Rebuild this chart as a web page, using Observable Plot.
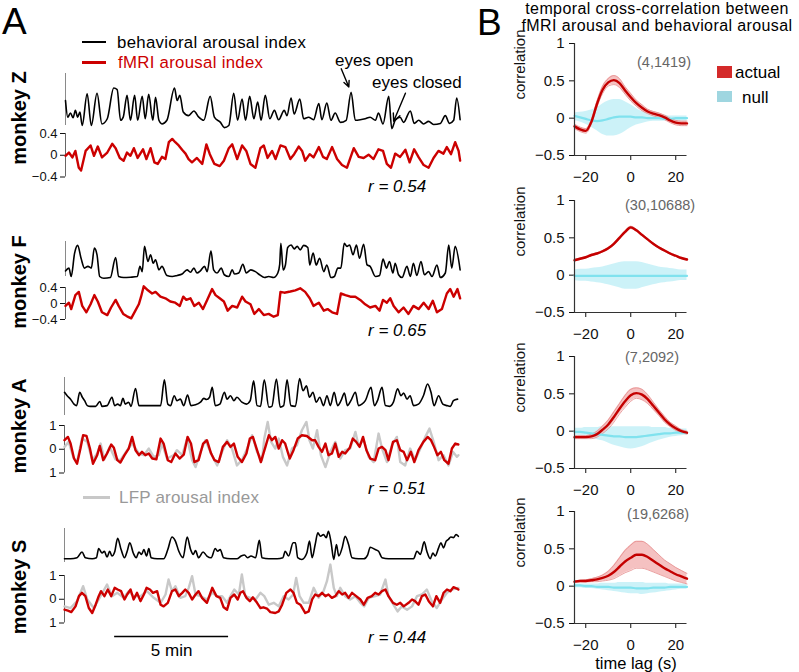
<!DOCTYPE html>
<html><head><meta charset="utf-8">
<script src="https://cdn.jsdelivr.net/npm/d3@7"></script>
<script src="https://cdn.jsdelivr.net/npm/@observablehq/plot@0.6"></script>
<style>
html,body{margin:0;padding:0;background:#fff;}
#root{position:relative;width:799px;height:672px;overflow:hidden;background:#fff;font-family:"Liberation Sans",Arial,Helvetica,sans-serif;color:#000;}
.t{position:absolute;white-space:nowrap;line-height:1;}
</style></head><body><div id="root"></div>
<script>
// ---------- Panel A data: [time (s), value] ----------
const timeDomain = [0, 1040];
const scaleBarSec = [132, 432];
const rValues = ["r = 0.54", "r = 0.65", "r = 0.51", "r = 0.44"];
const monkeyNames = ["monkey Z", "monkey F", "monkey A", "monkey S"];
const zfTicks = [-0.4, 0, 0.4];
const zfTickLabels = ["\u22120.4", "0", "0.4"];
const asTicks = [-1, 0, 1];
const asTickLabels = ["1", "0", "1"];

const zBeh = [[0,0.48],[6,0.16],[13,0.24],[20,0.15],[26,0.29],[32,0.16],[38,0.26],[44,0],[57,0.61],[68,0],[83,0.62],[96,0.03],[110,0.13],[127,0.72],[136,0.69],[145,0.10],[152,0.16],[162,0.58],[171,0.10],[182,0.58],[190,0.10],[202,0.56],[210,0.13],[219,0.60],[230,0.10],[237,0.54],[246,0.10],[254,0.03],[267,0.10],[287,0.72],[294,0.48],[301,0.58],[310,0.26],[324,0.19],[338,0.28],[351,0.16],[364,0.10],[381,0.56],[392,0.16],[408,0.06],[418,-0.04],[430,0],[443,0.62],[453,0.10],[465,0.51],[474,0.10],[485,0.56],[496,0.13],[506,0.45],[515,0.10],[526,0.58],[538,0.13],[550,0.29],[561,0.11],[576,0.29],[583,0.19],[594,0.53],[602,0.22],[617,0.51],[627,0.13],[640,0.16],[653,0.11],[667,0.42],[675,0.11],[688,0.43],[699,0.10],[710,0.24],[724,0.06],[739,0.10],[752,0.64],[763,0.10],[776,0.11],[789,0.13],[802,0.16],[816,0.10],[824,0.24],[836,0.03],[851,0.56],[859,-0.06],[868,0.10],[881,0.16],[890,0.06],[908,0.28],[918,0.04],[930,0.10],[943,0.03],[956,0.08],[969,0.02],[987,0.04],[1000,0.19],[1011,0.04],[1022,0.10],[1030,0.53],[1039,0.11]];
const zFmri = [[0,-0.01],[9,0.05],[18,-0.04],[26,0.08],[35,-0.23],[41,-0.28],[53,0.08],[66,0.18],[75,-0.01],[85,0.16],[96,-0.04],[110,0.05],[123,0.21],[132,0.13],[143,-0.05],[153,-0.10],[162,0.05],[171,-0.01],[180,0.13],[190,-0.05],[204,0.11],[213,-0.07],[224,0.13],[234,-0.13],[243,-0.16],[254,-0.03],[263,-0.07],[272,0.24],[281,0.30],[289,0.24],[298,0.18],[307,0.10],[316,0.03],[324,-0.07],[333,-0.13],[346,-0.05],[360,-0.16],[371,0.20],[380,0.02],[392,-0.16],[406,-0.20],[417,-0.10],[430,0.13],[439,0.20],[452,-0.07],[465,0.18],[476,0.08],[487,-0.16],[500,-0.23],[513,0.13],[522,0.18],[532,-0.05],[544,0.08],[553,-0.07],[566,0.18],[579,0.15],[592,-0.07],[602,0.02],[614,0.16],[623,0.08],[631,-0.10],[643,0.02],[653,-0.04],[667,0.15],[678,-0.03],[688,-0.07],[702,0.15],[715,-0.07],[728,-0.18],[741,-0.23],[750,-0.05],[759,0.13],[772,-0.03],[785,-0.05],[798,0.01],[811,-0.07],[824,0.11],[836,0.08],[846,-0.16],[857,-0.23],[868,0.03],[881,-0.03],[895,0.10],[906,-0.13],[918,0.11],[930,-0.04],[943,-0.18],[956,-0.23],[969,-0.05],[982,0.08],[995,0.03],[1004,0.15],[1015,0.02],[1026,0.24],[1035,0.08],[1039,-0.10]];

const fBeh = [[0,0.16],[9,0.24],[15,0],[24,0.67],[32,0.89],[41,0.52],[50,0.24],[59,0.29],[68,0.24],[76,0.81],[83,0.62],[90,0],[101,-0.05],[118,-0.03],[132,0.54],[140,0],[153,-0.03],[171,-0.02],[189,0],[196,0.29],[202,0.14],[208,0.86],[217,0.43],[224,0.62],[231,0.38],[237,0.48],[246,0.19],[254,0.29],[267,0.03],[281,0],[294,0.03],[307,0.07],[320,0.19],[329,0.12],[338,0.24],[346,0.10],[355,0.16],[366,0.29],[373,0.14],[383,0.73],[390,0.19],[399,0.10],[410,0.24],[418,0.05],[430,0],[439,0.19],[445,0.07],[456,0.10],[467,0.35],[476,0.10],[488,0.19],[500,0.14],[511,0.05],[524,-0.03],[535,0],[548,-0.03],[559,0.10],[564,0.35],[567,0.95],[573,0.19],[579,0.33],[585,0.83],[594,0.90],[602,0.79],[610,0.86],[618,0.76],[627,0.89],[638,0.83],[643,0.33],[652,0.67],[660,0.33],[669,0.52],[680,0.14],[688,0.33],[699,-0.03],[708,0],[717,0.24],[725,0.24],[734,0.95],[741,0.86],[748,0.90],[757,0.62],[766,0.90],[774,0.52],[785,0.92],[794,0.33],[802,0.29],[816,0],[827,0.03],[836,0.50],[845,0.24],[853,0.43],[862,0.10],[868,0.38],[877,0.05],[886,-0.03],[899,0.29],[908,0],[916,0.38],[925,0.03],[936,0.43],[945,0.05],[956,0.14],[965,0],[978,0.33],[987,-0.03],[1000,0.10],[1009,0.90],[1017,0.24],[1026,0.86],[1039,0.19]];
const fFmri = [[0,-0.06],[9,0.02],[15,-0.14],[26,0.21],[35,0.29],[44,-0.06],[55,-0.22],[66,-0.02],[76,0.21],[85,0.05],[96,-0.22],[110,-0.29],[120,-0.10],[132,0.09],[140,-0.06],[152,-0.26],[162,-0.32],[173,-0.37],[184,-0.18],[193,-0.02],[199,0.17],[206,0.43],[217,0.33],[228,0.25],[237,0.29],[250,0.17],[263,0.13],[276,0.05],[289,0.02],[301,-0.06],[310,0.17],[318,0.09],[329,0.13],[339,-0.06],[351,0.02],[362,-0.14],[373,0.09],[386,0.36],[395,0.21],[406,0.13],[417,0.05],[427,-0.18],[439,-0.06],[452,-0.10],[465,0.17],[474,0.05],[487,-0.02],[497,-0.26],[509,-0.14],[522,-0.29],[535,-0.26],[548,-0.33],[559,-0.29],[566,0.29],[576,0.27],[592,0.30],[605,0.33],[618,0.38],[631,0.29],[643,0.13],[653,-0.06],[667,0.02],[680,-0.18],[690,-0.14],[702,-0.22],[715,-0.26],[725,0.25],[737,0.21],[750,0.17],[763,0.17],[776,0.09],[789,-0.02],[802,-0.10],[816,-0.06],[827,-0.18],[836,0.09],[846,0.02],[855,0.13],[864,-0.06],[877,-0.22],[890,-0.10],[903,-0.26],[916,-0.06],[930,-0.14],[943,0.02],[956,-0.14],[967,0.07],[978,-0.22],[991,-0.14],[1004,0.25],[1013,0.36],[1022,0.17],[1032,0.36],[1039,0.13]];

const aBeh = [[0,0.61],[7,0.52],[16,0.43],[25,0.30],[32,0.26],[40,0.61],[47,0.48],[53,0.39],[60,0.26],[68,0.24],[82,0.24],[93,0.37],[99,0.24],[112,0.26],[125,0.48],[132,0.26],[140,0.30],[147,0.26],[154,0.45],[160,0.30],[169,0.35],[175,0.24],[187,0.71],[196,0.26],[204,0.26],[222,0.26],[239,0.26],[253,0.26],[263,0.94],[272,0.30],[279,0.26],[289,0.52],[296,0.39],[305,0.43],[314,0.26],[324,0.54],[333,0.26],[345,0.28],[358,0.35],[367,0.45],[374,0.42],[382,0.48],[389,0.74],[397,0.26],[409,0.30],[421,0.61],[428,0.43],[437,0.52],[446,0.39],[454,0.48],[467,0.35],[479,0.30],[489,0.39],[498,0.91],[507,0.26],[516,0.24],[526,0.94],[538,0.22],[546,0.24],[558,0.96],[568,0.22],[577,0.26],[586,0.94],[596,0.26],[608,0.24],[619,0.97],[628,0.65],[637,0.78],[645,0.48],[654,0.61],[663,0.35],[672,0.48],[682,0.26],[691,0.52],[700,0.26],[710,0.61],[719,0.26],[728,0.39],[737,0.59],[745,0.26],[754,0.39],[766,0.61],[774,0.26],[783,0.30],[792,0.39],[807,0.74],[816,0.26],[824,0.39],[836,0.74],[845,0.26],[856,0.24],[866,0.35],[877,0.70],[886,0.52],[893,0.59],[902,0.43],[910,0.52],[919,0.26],[932,0.30],[945,0.52],[956,0.83],[965,0.61],[973,0.26],[985,0.52],[996,0.30],[1007,0.26],[1016,0.24],[1024,0.39],[1035,0.43]];
const aFmri = [[0,0.38],[9,0.52],[16,0.24],[25,-0.39],[33,-0.61],[42,0.03],[49,0.59],[58,0.56],[67,0.03],[75,-0.61],[86,-0.25],[93,0.14],[102,-0.46],[112,-0.18],[123,0.20],[130,0.06],[139,-0.46],[147,-0.56],[158,-0.25],[169,0.03],[178,0.52],[187,-0.04],[196,-0.25],[204,-0.11],[213,-0.25],[222,-0.18],[231,-0.39],[242,-0.42],[253,0.45],[261,0.24],[272,-0.46],[281,-0.54],[292,-0.18],[303,-0.39],[314,-0.23],[324,0.52],[333,0.24],[342,-0.54],[353,-0.46],[365,0.24],[375,0.38],[386,-0.18],[395,-0.46],[406,-0.54],[417,0.10],[428,0.31],[437,0.10],[446,0.24],[456,-0.32],[467,-0.54],[479,-0.18],[488,0.45],[496,0.52],[507,-0.04],[517,-0.54],[529,0.10],[538,0.59],[546,0.38],[555,0.52],[564,0.03],[573,0.38],[581,0.24],[593,-0.39],[603,-0.04],[614,0.45],[625,0.59],[638,0.56],[652,0.38],[660,0.38],[669,0.10],[678,-0.11],[687,0.24],[695,-0.25],[704,-0.18],[713,0.24],[722,-0.32],[731,-0.11],[739,-0.18],[751,0.06],[759,0.45],[768,0.31],[777,0.10],[786,0.52],[795,-0.04],[805,-0.39],[818,-0.46],[827,0.03],[836,0.10],[845,-0.04],[853,-0.46],[865,0.31],[875,0.38],[884,-0.04],[893,-0.11],[902,-0.46],[912,-0.11],[921,-0.54],[932,-0.04],[945,0.31],[956,0.52],[965,0.38],[973,0.10],[982,-0.25],[991,-0.11],[1000,-0.46],[1011,-0.61],[1020,0.03],[1029,0.24],[1037,0.20]];
const aLfp = [[0,0.10],[11,0.31],[23,-0.32],[33,-0.54],[46,0.45],[60,0.31],[73,-0.46],[86,-0.18],[95,0.24],[105,-0.42],[119,0.10],[134,-0.42],[147,-0.46],[165,-0.04],[178,0.24],[196,-0.18],[209,-0.25],[222,0.03],[235,-0.32],[248,-0.25],[257,0.24],[270,-0.39],[288,-0.25],[296,-0.04],[310,-0.25],[323,0.45],[336,-0.46],[345,-0.75],[358,-0.11],[371,0.38],[384,-0.11],[402,-0.68],[415,-0.11],[428,0.38],[441,0.03],[454,-0.68],[467,-0.46],[481,0.03],[494,0.59],[507,-0.11],[520,-0.46],[526,0.45],[535,1.15],[544,0.31],[555,0.03],[564,0.45],[575,-0.32],[586,-0.68],[599,0.03],[612,0.17],[625,0.80],[637,1.15],[645,0.38],[654,0.03],[665,0.80],[675,-0.25],[687,-0.75],[700,-0.11],[713,0.31],[726,-0.39],[739,-0.04],[752,0.03],[766,0.73],[774,0.17],[788,0.38],[801,-0.32],[814,-0.54],[827,0.66],[836,0.03],[849,-0.54],[862,0.17],[875,0.52],[884,-0.54],[897,-0.68],[910,0.03],[923,-0.46],[937,0.03],[950,0.52],[961,0.87],[972,0.31],[985,-0.46],[998,-0.25],[1011,-0.68],[1023,-0.11],[1033,-0.32],[1037,-0.25]];

const sBeh = [[0,0.11],[16,0.11],[33,0.14],[46,0.31],[55,0.14],[73,0.11],[84,0.14],[90,0.41],[99,0.28],[105,0.33],[112,0.16],[119,0.33],[125,0.19],[132,0.31],[140,0.71],[149,0.38],[158,0.14],[165,0.33],[172,0.58],[181,0.28],[189,0.14],[196,0.31],[203,0.24],[209,0.38],[216,0.19],[222,0.41],[228,0.14],[244,0.11],[261,0.11],[272,0.38],[283,0.75],[292,0.63],[301,0.33],[312,0.14],[323,0.75],[332,0.38],[339,0.24],[345,0.35],[353,0.14],[365,0.31],[375,0.19],[386,0.14],[397,0.41],[403,0.33],[410,0.38],[419,0.14],[437,0.11],[454,0.11],[465,0.19],[474,0.22],[482,0.14],[491,0.19],[503,0.14],[513,0.65],[520,0.14],[538,0.11],[560,0.11],[575,0.14],[581,0.33],[590,0.19],[602,0.58],[608,0.58],[614,0.14],[625,0.09],[638,0.28],[645,0.63],[652,0.14],[660,0.53],[667,0.87],[674,0.77],[682,0.82],[689,0.73],[695,0.92],[702,0.58],[709,0.09],[716,0.53],[722,0.19],[731,0.43],[739,0.77],[748,0.53],[757,0.14],[774,0.11],[788,0.11],[798,0.22],[805,0.45],[818,0.38],[827,0.33],[836,0.14],[853,0.11],[875,0.11],[897,0.11],[919,0.11],[928,0.33],[937,0.24],[947,0.61],[954,0.33],[963,0.11],[970,0.28],[976,0.19],[985,0.43],[991,0.58],[998,0.43],[1005,0.63],[1011,0.68],[1017,0.75],[1024,0.73],[1031,0.82],[1037,0.77]];
const sFmri = [[0,-0.44],[9,-0.48],[18,-0.54],[29,-0.30],[38,0.13],[46,0.27],[55,0.13],[64,-0.37],[73,-0.58],[82,-0.23],[90,0.13],[96,0.34],[105,0.13],[114,0.41],[123,0.13],[132,0.48],[140,0.41],[149,0.34],[158,-0.01],[165,0.20],[174,0.41],[182,-0.01],[191,0.27],[200,-0.08],[209,0.20],[216,0.48],[225,0.41],[233,0.27],[244,0.34],[253,-0.23],[261,-0.30],[272,-0.15],[283,0.34],[292,0.41],[301,0.13],[310,0.27],[318,0.41],[327,0.27],[336,-0.01],[345,0.20],[353,0.34],[362,0.06],[375,-0.15],[389,0.48],[400,0.13],[410,0.06],[419,-0.34],[428,-0.44],[437,0.06],[447,0.20],[456,-0.01],[463,0.27],[470,0.34],[479,0.06],[488,-0.08],[496,0.08],[507,-0.15],[516,-0.37],[524,-0.34],[533,-0.39],[542,-0.54],[555,-0.58],[564,-0.51],[573,-0.23],[584,0.27],[595,0.41],[603,0.27],[612,-0.15],[621,-0.23],[634,-0.58],[643,-0.51],[652,-0.01],[660,0.20],[669,0.13],[678,0.27],[687,0.13],[695,0.20],[704,0.06],[713,0.13],[722,0.34],[731,0.20],[739,0.27],[748,0.06],[757,0.27],[768,0.13],[779,-0.01],[788,-0.23],[798,0.06],[809,0.13],[818,0.27],[827,0.20],[836,0.34],[845,0.41],[853,0.13],[865,-0.15],[875,-0.23],[884,-0.15],[893,-0.30],[906,-0.15],[915,-0.01],[923,-0.08],[932,-0.23],[941,0.13],[950,0.20],[959,-0.08],[970,-0.30],[979,0.13],[989,-0.15],[998,0.27],[1007,0.41],[1016,0.34],[1024,0.51],[1033,0.45],[1037,0.41]];
const sLfp = [[0,-0.30],[16,-0.37],[33,-0.08],[49,0.55],[60,-0.01],[77,-0.37],[95,0.13],[112,0.62],[125,0.13],[139,0.27],[156,0.06],[169,0.34],[182,0.13],[200,0.13],[217,0.34],[235,0.06],[253,-0.15],[266,0.20],[274,0.83],[283,0.34],[292,0.55],[305,0.06],[318,0.13],[327,0.48],[336,0.97],[345,0.20],[358,0.13],[375,-0.01],[389,0.27],[402,0.13],[415,0.13],[428,-0.15],[437,0.13],[447,0.41],[459,0.20],[467,1.04],[476,0.13],[489,0.06],[503,-0.01],[516,0.27],[526,0.13],[538,-0.23],[551,-0.15],[564,-0.30],[577,0.13],[590,-0.01],[602,0.20],[610,0.90],[619,0.13],[630,-0.15],[643,-0.15],[656,0.48],[669,0.06],[682,0.34],[691,0.76],[700,1.46],[709,0.48],[717,0.13],[726,0.48],[739,0.13],[752,-0.01],[766,0.13],[779,-0.15],[789,-0.30],[801,0.06],[818,0.13],[831,0.20],[845,0.83],[853,0.13],[866,-0.23],[877,-0.51],[888,-0.30],[902,-0.44],[915,-0.30],[928,0.13],[941,0.20],[954,0.41],[967,-0.08],[980,-0.37],[994,-0.01],[1007,0.27],[1020,0.41],[1037,0.48]];

const eyeArrows = [
  {label: "eyes open", x1: 726, y1: 1.09, x2: 746, y2: 0.74},
  {label: "eyes closed", x1: 895, y1: 0.62, x2: 864, y2: 0.08}
];

// ---------- Panel B data ----------
const lags = [-25,-22.5,-20,-17.5,-15,-12.5,-10,-7.5,-5,-2.5,0,2.5,5,7.5,10,12.5,15,17.5,20,22.5,25];
const lagTicks = [-20, 0, 20];
const lagTickLabels = ["\u221220", "0", "20"];
const corrTicks = [-0.5, 0, 0.5, 1];
const corrTickLabels = ["\u22120.5", "0", "0.5", "1"];
const counts = ["(4,1419)", "(30,10688)", "(7,2092)", "(19,6268)"];

const b1Actual = [-0.11,-0.15,-0.17,-0.05,0.19,0.38,0.48,0.51,0.47,0.37,0.28,0.20,0.14,0.09,0.06,0.04,0.01,-0.03,-0.06,-0.07,-0.07];
const b1Err    = [0.03,0.03,0.03,0.03,0.04,0.05,0.05,0.06,0.06,0.05,0.05,0.04,0.04,0.03,0.03,0.03,0.03,0.03,0.03,0.03,0.03];
const b1Null   = [0.03,0.01,-0.01,-0.03,-0.04,-0.03,-0.01,0.01,0.02,0.02,0.02,0.01,0.01,0,0,0,-0.01,-0.01,0,0,0];
const b1NullHi = [0.07,0.08,0.09,0.11,0.14,0.19,0.23,0.25,0.25,0.22,0.18,0.13,0.09,0.07,0.05,0.04,0.04,0.03,0.03,0.03,0.03];
const b1NullLo = [-0.03,-0.05,-0.08,-0.12,-0.17,-0.22,-0.24,-0.24,-0.22,-0.18,-0.13,-0.09,-0.07,-0.05,-0.04,-0.04,-0.04,-0.04,-0.04,-0.04,-0.04];

const b2Actual = [0.20,0.22,0.24,0.27,0.29,0.32,0.36,0.42,0.50,0.58,0.64,0.60,0.54,0.48,0.42,0.37,0.33,0.29,0.26,0.23,0.21];
const b2Err    = [0.01,0.01,0.01,0.01,0.01,0.01,0.012,0.012,0.014,0.015,0.015,0.015,0.014,0.012,0.012,0.01,0.01,0.01,0.01,0.01,0.01];
const b2Null   = [-0.01,-0.01,-0.01,-0.01,-0.01,-0.01,-0.01,-0.01,-0.01,-0.01,-0.01,-0.01,-0.01,-0.01,-0.01,-0.01,-0.01,-0.01,-0.01,-0.01,-0.01];
const b2NullHi = [0.07,0.08,0.08,0.09,0.10,0.11,0.13,0.15,0.17,0.18,0.18,0.18,0.17,0.15,0.13,0.11,0.10,0.09,0.08,0.07,0.07];
const b2NullLo = [-0.07,-0.08,-0.08,-0.09,-0.10,-0.11,-0.13,-0.15,-0.17,-0.19,-0.19,-0.19,-0.17,-0.15,-0.13,-0.11,-0.10,-0.09,-0.08,-0.07,-0.07];

const b3Actual = [-0.08,-0.08,-0.08,-0.07,-0.04,0.02,0.09,0.19,0.30,0.40,0.48,0.51,0.49,0.43,0.34,0.25,0.16,0.09,0.04,0.00,-0.02];
const b3Err    = [0.02,0.02,0.02,0.03,0.04,0.05,0.06,0.07,0.07,0.08,0.08,0.07,0.07,0.06,0.05,0.04,0.04,0.03,0.03,0.02,0.02];
const b3Null   = [-0.01,-0.01,-0.02,-0.03,-0.04,-0.05,-0.06,-0.07,-0.07,-0.08,-0.08,-0.08,-0.07,-0.06,-0.05,-0.04,-0.03,-0.03,-0.02,-0.02,-0.02];
const b3NullHi = [0.04,0.04,0.05,0.05,0.05,0.06,0.06,0.06,0.06,0.06,0.06,0.06,0.06,0.06,0.05,0.05,0.05,0.04,0.04,0.03,0.03];
const b3NullLo = [-0.05,-0.06,-0.07,-0.09,-0.11,-0.13,-0.16,-0.19,-0.21,-0.23,-0.24,-0.23,-0.21,-0.18,-0.15,-0.12,-0.10,-0.08,-0.07,-0.06,-0.05];

const b4Actual = [0.06,0.07,0.07,0.08,0.09,0.11,0.14,0.19,0.26,0.33,0.38,0.42,0.42,0.39,0.34,0.29,0.24,0.20,0.16,0.13,0.10];
const b4Err    = [0.01,0.01,0.015,0.02,0.03,0.04,0.06,0.09,0.12,0.15,0.17,0.18,0.18,0.17,0.15,0.13,0.11,0.10,0.09,0.08,0.07];
const b4Null   = [0.01,0.01,0,0,-0.01,-0.01,-0.01,-0.02,-0.02,-0.02,-0.02,-0.03,-0.03,-0.03,-0.02,-0.02,-0.02,-0.01,-0.01,-0.01,-0.01];
const b4NullHi = [0.03,0.03,0.03,0.03,0.03,0.04,0.04,0.04,0.05,0.05,0.05,0.05,0.05,0.04,0.04,0.04,0.04,0.03,0.03,0.03,0.03];
const b4NullLo = [-0.02,-0.02,-0.03,-0.03,-0.04,-0.05,-0.06,-0.07,-0.08,-0.09,-0.10,-0.10,-0.11,-0.10,-0.09,-0.08,-0.07,-0.06,-0.05,-0.04,-0.04];

// ---------- rendering ----------
const FONT = "'Liberation Sans', Arial, Helvetica, sans-serif";
const root = document.getElementById("root");
const plotStyle = (fs) => ({background: "transparent", overflow: "visible", fontFamily: FONT, fontSize: fs + "px", color: "#111", maxWidth: "none"});

function put(node, left, top) {
  const d = document.createElement("div");
  d.style.cssText = `position:absolute;left:${left}px;top:${top}px;width:${node.getAttribute("width")}px;`;
  d.appendChild(node);
  root.appendChild(d);
}
function txt(s, left, top, css = "") {
  const d = document.createElement("div");
  d.className = "t";
  d.textContent = s;
  d.style.cssText = `left:${left}px;top:${top}px;transform:translateY(-50%);${css}`;
  root.appendChild(d);
  return d;
}
function box(left, top, w, h, color) {
  const d = document.createElement("div");
  d.style.cssText = `position:absolute;left:${left}px;top:${top}px;width:${w}px;height:${h}px;background:${color};`;
  root.appendChild(d);
}
function trace(data, stroke, w, curve = "linear") {
  return Plot.line(data, {x: d => d[0], y: d => d[1], stroke, strokeWidth: w, curve, strokeLinejoin: "round", strokeLinecap: "round"});
}

const panelA = [
  {beh: zBeh, fmri: zFmri, lfp: null, ticks: zfTicks, labels: zfTickLabels, ax: 65, bT: 73, bB: 125, fT: 133, fB: 176.5, ly: 118, ry: 186},
  {beh: fBeh, fmri: fFmri, lfp: null, ticks: zfTicks, labels: zfTickLabels, ax: 65, bT: 240.7, bB: 275.7, fT: 287, fB: 319, ly: 282, ry: 330},
  {beh: aBeh, fmri: aFmri, lfp: aLfp, ticks: asTicks, labels: asTickLabels, ax: 64, bT: 377, bB: 415, fT: 425, fB: 472.5, ly: 426, ry: 488},
  {beh: sBeh, fmri: sFmri, lfp: sLfp, ticks: asTicks, labels: asTickLabels, ax: 64, bT: 528, bB: 562, fT: 575, fB: 622.5, ly: 587, ry: 637}
];

panelA.forEach((m, i) => {
  const mr = 470 - m.ax - 395;
  const behMarks = [
    Plot.ruleX([0], {stroke: "#8a8a8a", strokeWidth: 1}),
    trace(m.beh, "#000", 1.6, "monotone-x")
  ];
  if (i === 0) behMarks.push(Plot.arrow(eyeArrows, {x1: "x1", y1: "y1", x2: "x2", y2: "y2", stroke: "#000", strokeWidth: 1.4, headLength: 9, headAngle: 50}));
  const bp = Plot.plot({
    width: 470, height: (m.bB - m.bT) + 20, marginLeft: m.ax, marginRight: mr, marginTop: 10, marginBottom: 10,
    x: {domain: timeDomain, axis: null}, y: {domain: [0, 1], axis: null},
    style: plotStyle(13), marks: behMarks
  });
  put(bp, 0, m.bT - 10);

  const fMarks = [Plot.ruleX([0], {stroke: "#666", strokeWidth: 1})];
  if (m.lfp) fMarks.push(trace(m.lfp, "#c8c8c8", 2.4));
  fMarks.push(trace(m.fmri, "#cc0000", 2.4));
  const fp = Plot.plot({
    width: 470, height: (m.fB - m.fT) + 20, marginLeft: m.ax, marginRight: mr, marginTop: 10, marginBottom: 10,
    x: {domain: timeDomain, axis: null},
    y: {domain: [m.ticks[0], m.ticks[2]], ticks: m.ticks, tickFormat: d => m.labels[m.ticks.indexOf(d)], tickSize: 5, tickPadding: 3, label: null},
    style: plotStyle(13), marks: fMarks
  });
  put(fp, 0, m.fT - 10);

  txt(monkeyNames[i], 19, m.ly, "font-size:20px;font-weight:bold;transform:translate(-50%,-50%) rotate(-90deg);");
  txt(rValues[i], 368, m.ry, "font-size:17px;font-style:italic;");
});

// scale bar
const sb = Plot.plot({
  width: 470, height: 40, marginLeft: 64, marginRight: 11, marginTop: 10, marginBottom: 30,
  x: {domain: timeDomain, axis: null}, y: {domain: [0, 1], axis: null},
  style: plotStyle(17),
  marks: [
    Plot.ruleY([0], {x1: scaleBarSec[0], x2: scaleBarSec[1], stroke: "#000", strokeWidth: 1.5}),
    Plot.text(["5 min"], {x: (scaleBarSec[0] + scaleBarSec[1]) / 2, y: 0, dy: 14, fontSize: 17, fill: "#000"})
  ]
});
put(sb, 0, 626);

// Panel A texts
txt("A", 2, 21, "font-size:37px;");
box(82, 41.3, 24, 1.5, "#000");
txt("behavioral arousal index", 117, 42, "font-size:16.8px;line-height:15px;letter-spacing:0.3px;");
box(82, 60.5, 24, 3, "#cc0000");
txt("fMRI arousal index", 118, 62, "font-size:16.8px;line-height:15px;letter-spacing:0.3px;color:#cc0000;");
txt("eyes open", 335, 60, "font-size:17px;line-height:15px;");
txt("eyes closed", 372, 82, "font-size:17px;line-height:15px;");
box(83, 495.5, 27, 3, "#c8c8c8");
txt("LFP arousal index", 119, 497, "font-size:17px;color:#999;letter-spacing:0.2px;");

// Panel B
const panelB = [
  {act: b1Actual, err: b1Err, nul: b1Null, hi: b1NullHi, lo: b1NullLo, y1: 43.3, cy: 62, cx: 637},
  {act: b2Actual, err: b2Err, nul: b2Null, hi: b2NullHi, lo: b2NullLo, y1: 200, cy: 205, cx: 625},
  {act: b3Actual, err: b3Err, nul: b3Null, hi: b3NullHi, lo: b3NullLo, y1: 356, cy: 357, cx: 625},
  {act: b4Actual, err: b4Err, nul: b4Null, hi: b4NullHi, lo: b4NullLo, y1: 511, cy: 514, cx: 627}
];
panelB.forEach((p, i) => {
  const rows = lags.map((l, j) => ({lag: l, a: p.act[j], aLo: p.act[j] - p.err[j], aHi: p.act[j] + p.err[j], n: p.nul[j], nLo: p.lo[j], nHi: p.hi[j]}));
  const cv = "monotone-x";
  const plt = Plot.plot({
    width: 220, height: 160, marginLeft: 94, marginRight: 13.5, marginTop: 13, marginBottom: 35,
    x: {domain: [-25, 25], ticks: lagTicks, tickFormat: d => lagTickLabels[lagTicks.indexOf(d)], tickSize: 5, tickPadding: 11, label: null},
    y: {domain: [-0.5, 1], ticks: corrTicks, tickFormat: d => corrTickLabels[corrTicks.indexOf(d)], tickSize: 5, tickPadding: 5, label: null},
    style: plotStyle(15),
    marks: [
      Plot.areaY(rows, {x: "lag", y1: "nLo", y2: "nHi", fill: "#c3f0f7", fillOpacity: 0.85, curve: cv}),
      Plot.areaY(rows, {x: "lag", y1: "aLo", y2: "aHi", fill: "#f2b2b2", fillOpacity: 0.8, curve: cv}),
      Plot.line(rows, {x: "lag", y: "aLo", stroke: "#e48a8a", strokeWidth: 0.8, curve: cv}),
      Plot.line(rows, {x: "lag", y: "aHi", stroke: "#e48a8a", strokeWidth: 0.8, curve: cv}),
      Plot.line(rows, {x: "lag", y: "n", stroke: "#80e2ee", strokeWidth: 2.2, curve: cv}),
      Plot.line(rows, {x: "lag", y: "a", stroke: "#c40000", strokeWidth: 2.4, curve: cv}),
      Plot.ruleX([-25], {stroke: "#333", strokeWidth: 1.2}),
      Plot.ruleY([-0.5], {stroke: "#333", strokeWidth: 1.2}),
      Plot.text(["correlation"], {frameAnchor: "left", rotate: -90, dx: -54, fontSize: 15, fill: "#111"})
    ]
  });
  put(plt, 480, p.y1 - 13);
  txt(counts[i], p.cx, p.cy, "font-size:14.5px;color:#666;");
});

txt("B", 477, 22, "font-size:37px;");
txt("temporal cross-correlation between", 657, 9, "font-size:16px;line-height:14px;letter-spacing:0.4px;transform:translate(-50%,-50%);");
txt("fMRI arousal and behavioral arousal", 657, 26, "font-size:16px;line-height:14px;letter-spacing:0.4px;transform:translate(-50%,-50%);");
box(717, 65.5, 15, 12, "#d42a2a");
txt("actual", 735, 72, "font-size:17px;");
box(717, 91, 15, 11, "#9fd6e0");
txt("null", 742, 97, "font-size:17px;");
txt("time lag (s)", 636, 663, "font-size:16.5px;transform:translate(-50%,-50%);");
</script>
</body></html>
